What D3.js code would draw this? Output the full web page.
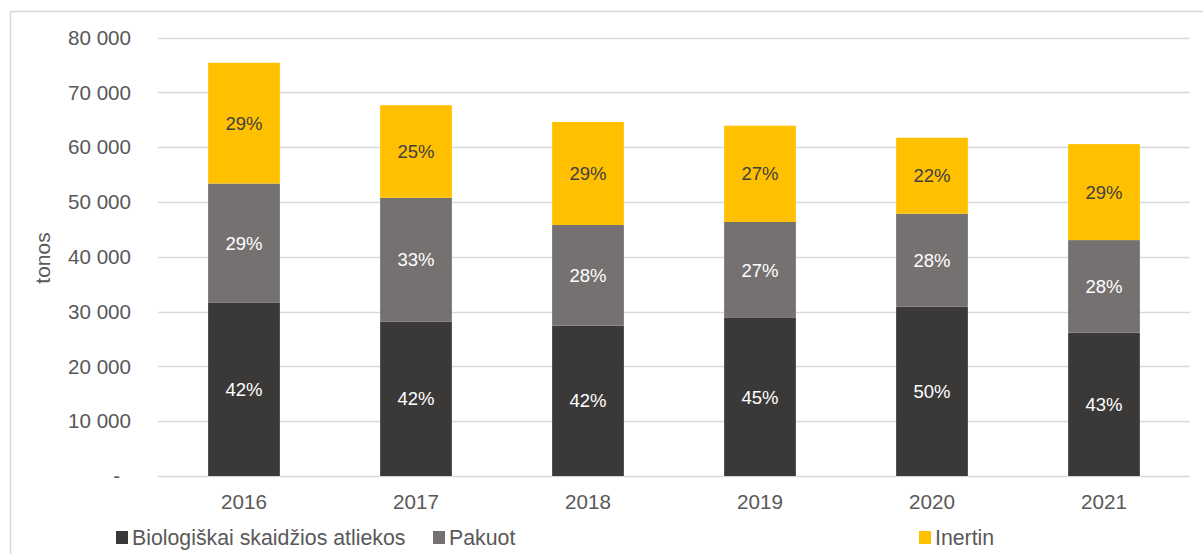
<!DOCTYPE html>
<html><head><meta charset="utf-8">
<script src="https://cdn.jsdelivr.net/npm/d3@7"></script>
<style>
html,body{margin:0;padding:0;background:#fff;}
svg{display:block;font-family:"Liberation Sans",Arial,sans-serif;}
</style></head>
<body>
<svg id="c" width="1203" height="554"></svg>
<script>
const years = ["2016","2017","2018","2019","2020","2021"];
const bio = [31600, 28200, 27450, 28850, 30900, 26150];
const pakuot = [21780, 22570, 18370, 17520, 16970, 16910];
const inertin = [22040, 16910, 18800, 17570, 13870, 17520];
const bioPct = ["42%","42%","42%","45%","50%","43%"];
const pakPct = ["29%","33%","28%","27%","28%","28%"];
const inePct = ["29%","25%","29%","27%","22%","29%"];
const yTicks = [0,10000,20000,30000,40000,50000,60000,70000,80000];
const seriesNames = ["Biologiškai skaidžios atliekos","Pakuot","Inertin"];
const colors = ["#3b3938","#767171","#ffc000"];
const labelColors = ["#ffffff","#ffffff","#404040"];

const svg = d3.select("#c");
svg.append("rect").attr("x",10.5).attr("y",11.5).attr("width",1250).attr("height",600)
  .attr("fill","none").attr("stroke","#d9d9d9").attr("stroke-width",1.5);

const pLeft=158, pRight=1190, pTop=37.7, pBottom=476;
const x = d3.scaleBand().domain(years).range([pLeft,pRight]).paddingInner(0.583).paddingOuter(0.2915);
const y = d3.scaleLinear().domain([0,80000]).range([pBottom,pTop]);

// gridlines
svg.append("g").selectAll("line").data(yTicks).join("line")
  .attr("x1",pLeft).attr("x2",pRight)
  .attr("y1",d=>Math.round(y(d))+0.5).attr("y2",d=>Math.round(y(d))+0.5)
  .attr("stroke","#d9d9d9").attr("stroke-width",1.5);

// y axis labels
const yAxis = d3.axisLeft(y).tickValues(yTicks).tickSize(0).tickPadding(0)
  .tickFormat(d=> d===0 ? "-" : d3.format(",")(d).replace(/,/g," "));
const yg = svg.append("g").attr("transform",`translate(131,0)`).call(yAxis);
yg.select(".domain").remove();
yg.selectAll("text").attr("fill","#595959").attr("font-size","20.6px")
  .attr("font-family","Liberation Sans, Arial, sans-serif")
  .attr("dx",d=>d===0?-11:0);

// x axis labels
const xAxis = d3.axisBottom(x).tickSize(0).tickPadding(0);
const xg = svg.append("g").attr("transform",`translate(0,${pBottom})`).call(xAxis);
xg.select(".domain").remove();
xg.selectAll("text").attr("fill","#595959").attr("font-size","20.6px")
  .attr("font-family","Liberation Sans, Arial, sans-serif").attr("dy","1.58em");

// stacked data
const table = years.map((yr,i)=>({year:yr, b:bio[i], p:pakuot[i], n:inertin[i]}));
const stack = d3.stack().keys(["b","p","n"])(table);
const pcts = [bioPct, pakPct, inePct];

stack.forEach((layer,li)=>{
  const g = svg.append("g");
  g.selectAll("rect").data(layer).join("rect")
    .attr("x",d=>x(d.data.year)).attr("width",x.bandwidth())
    .attr("y",d=>y(d[1])).attr("height",d=>y(d[0])-y(d[1]))
    .attr("fill",colors[li]);
  g.selectAll("text").data(layer).join("text")
    .attr("x",d=>x(d.data.year)+x.bandwidth()/2)
    .attr("y",d=>(y(d[0])+y(d[1]))/2)
    .attr("dy","0.36em").attr("text-anchor","middle")
    .attr("font-size","18.5px").attr("fill",labelColors[li])
    .text((d,i)=>pcts[li][i]);
});

// y title
svg.append("text").attr("transform","translate(50,258) rotate(-90)")
  .attr("text-anchor","middle").attr("font-size","21px").attr("fill","#595959").text("tonos");

// legend
const legX = [116, 433, 919];
seriesNames.forEach((n,i)=>{
  svg.append("rect").attr("x",legX[i]).attr("y",531).attr("width",12).attr("height",13).attr("fill",colors[i]);
  svg.append("text").attr("x",legX[i]+16).attr("y",545).attr("font-size","21.3px")
    .attr("fill","#595959").text(n);
});
</script>
</body></html>
